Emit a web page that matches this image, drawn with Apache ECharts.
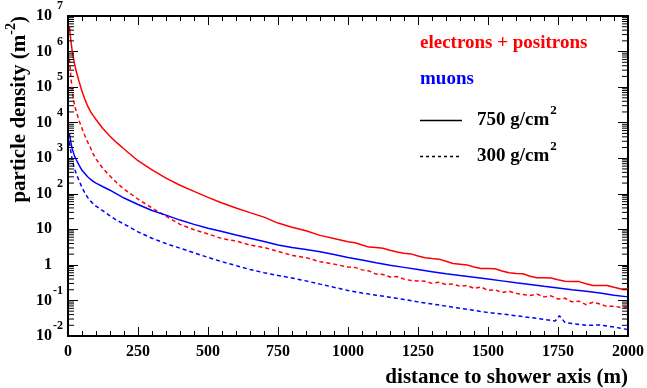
<!DOCTYPE html>
<html><head><meta charset="utf-8">
<script src="https://cdn.jsdelivr.net/npm/echarts@6/dist/echarts.min.js"></script>
<style>html,body{margin:0;padding:0;background:#fff}#c{width:647px;height:388px}</style>
</head><body><div id="c"></div>
<script>
const FONT = 'Liberation Serif';

// distances (m)
const distFine = [5,10,15,20,25,30,40,50,60,70,80,90,100,125,150,175,200,250,300,350,400,450,500,550,600,650,700,750,800,850,900,950,
  1000,1025,1050,1075,1100,1125,1150,1175,1200,1225,1250,1275,1300,1325,1350,1375,1400,1425,1450,1475,1500,1525,1550,1575,1600,1625,1650,1675,1700,1725,1750,1775,1800,1825,1850,1875,1900,1925,1950,1975,2000];
const distCoarse = [5,10,15,20,25,30,40,50,60,70,80,90,100,125,150,175,200,250,300,350,400,450,500,550,600,650,700,750,800,850,900,950,
  1000,1050,1100,1150,1200,1250,1300,1350,1400,1450,1500,1550,1600,1650,1700,1750,1800,1850,1900,1950,2000];
const distMu300 = [5,10,15,20,25,30,40,50,60,70,80,90,100,125,150,175,200,250,300,350,400,450,500,550,600,650,700,750,800,850,900,950,
  1000,1050,1100,1150,1200,1250,1300,1350,1400,1450,1500,1550,1600,1650,1700,1740,1755,1775,1800,1850,1900,1950,2000];

// particle densities (m^-2)
const elec750 = [5.1e6,2.1e6,1.05e6,6.2e5,3.9e5,2.7e5,1.4e5,7.6e4,4.6e4,2.95e4,2.09e4,1.58e4,1.23e4,6760,4170,2690,1820,851,468,275,174,117,79.4,55.0,39.8,29.5,22.0,15.0,11.5,9.1,6.76,5.50,
  4.47,4.17,3.63,3.16,3.09,2.95,2.57,2.29,2.14,2.04,1.78,1.58,1.51,1.45,1.26,1.10,1.05,1.00,0.871,0.794,0.794,0.776,0.676,0.603,0.575,0.562,0.479,0.437,0.437,0.427,0.380,0.347,0.339,0.339,0.295,0.263,0.263,0.263,0.234,0.209,0.215];
const elec300 = [6.3e5,2.0e5,8.32e4,4.27e4,2.75e4,2.0e4,1.12e4,6920,4370,2880,2000,1320,955,513,316,200,135,70.8,39.8,23.4,13.8,9.77,7.41,5.50,4.7,3.6,3.1,2.40,1.85,1.6,1.23,1.05,
  0.871,0.851,0.724,0.676,0.550,0.537,0.457,0.468,0.398,0.363,0.355,0.347,0.302,0.324,0.282,0.288,0.251,0.263,0.219,0.240,0.191,0.200,0.166,0.182,0.158,0.148,0.138,0.151,0.126,0.135,0.110,0.115,0.0912,0.0955,0.0759,0.0891,0.0794,0.0676,0.0692,0.0631,0.0661];
const muon750 = [5010,2820,1860,1380,1070,891,631,457,372,302,257,224,200,158,126,97.7,75.9,50.1,33.9,25.1,18.2,13.8,10.7,8.71,6.92,5.62,4.57,3.63,3.09,2.69,2.34,1.95,
  1.62,1.38,1.15,0.977,0.851,0.741,0.646,0.562,0.501,0.447,0.398,0.355,0.316,0.282,0.251,0.224,0.200,0.182,0.162,0.141,0.126];
const muon300 = [2820,1585,912,631,457,363,229,151,107,79.4,63.1,52.5,44.7,33.1,24.0,17.8,14.1,8.51,5.62,3.98,2.95,2.19,1.62,1.23,0.955,0.741,0.603,0.501,0.427,0.355,0.288,0.234,
  0.191,0.162,0.141,0.123,0.107,0.0912,0.0794,0.0692,0.0603,0.0525,0.0457,0.0417,0.0372,0.0331,0.0295,0.0263,0.0372,0.0240,0.0224,0.0200,0.0204,0.0178,0.0151];

const xTicks = [0,250,500,750,1000,1250,1500,1750,2000];
const yMin = 1e-2, yMax = 1e7;
const legendTexts = ['electrons + positrons','muons','750 g/cm','300 g/cm'];

const zip = (xs, ys) => xs.map((x, i) => [x, ys[i]]);

// minor tick positions for log axis (2..9 per decade)
const minorVals = [];
for (let e = -2; e < 7; e++) for (let m = 2; m <= 9; m++) minorVals.push([0, m * Math.pow(10, e)]);

function yLabel(v) {
  const e = Math.round(Math.log10(v));
  if (e === 0) return '{p|1}';
  if (e === 1) return '{p|10}';
  return '{s|' + e + '}\n{b|10}{sp| }\n{e| }';
}

const axisLineStyle = { show: true, onZero: false, lineStyle: { color: '#000', width: 2 } };
const chart = echarts.init(document.getElementById('c'), null, { renderer: 'canvas' });

const xBase = {
  type: 'value', min: 0, max: 2000, interval: 250,
  axisLine: axisLineStyle,
  axisTick: { show: true, inside: true, length: 9, lineStyle: { color: '#000', width: 1 } },
  minorTick: { show: true, splitNumber: 5, length: 5, lineStyle: { color: '#000', width: 1 } },
  splitLine: { show: false }, minorSplitLine: { show: false }
};
const yBase = {
  type: 'log', logBase: 10, min: yMin, max: yMax, splitNumber: 9,
  axisLine: axisLineStyle,
  axisTick: { show: true, inside: true, length: 10, lineStyle: { color: '#000', width: 1 } },
  splitLine: { show: false }
};

const option = {
  animation: false,
  backgroundColor: '#fff',
  grid: { left: 68, right: 17, top: 13, bottom: 51, containLabel: false },
  xAxis: [
    Object.assign({}, xBase, {
      position: 'bottom',
      name: 'distance to shower axis (m)', nameLocation: 'end', nameGap: 0,
      nameTextStyle: { fontFamily: FONT, fontWeight: 'bold', fontSize: 21, color: '#000', align: 'right', verticalAlign: 'top', padding: [31, 0, 0, 0] },
      axisLabel: { show: true, margin: 8, fontFamily: FONT, fontWeight: 'bold', fontSize: 16, color: '#000',
        formatter: v => xTicks.includes(v) ? String(v) : '' }
    }),
    Object.assign({}, xBase, { position: 'top', axisLabel: { show: false } })
  ],
  yAxis: [
    Object.assign({}, yBase, {
      position: 'left',
      name: '{a|particle density (m}{s|-2}{a|)}', nameLocation: 'end', nameGap: 0, nameRotate: 90,
      nameTextStyle: {
        align: 'right', verticalAlign: 'bottom', padding: [0, 0, 32, 0],
        rich: {
          a: { fontFamily: FONT, fontWeight: 'bold', fontSize: 21, color: '#000' },
          s: { fontFamily: FONT, fontWeight: 'bold', fontSize: 14, color: '#000', padding: [0, 0, 18, 0] }
        }
      },
      axisLabel: {
        show: true, margin: 5, showMinLabel: true, showMaxLabel: true, hideOverlap: false,
        formatter: yLabel,
        rich: {
          p: { fontFamily: FONT, fontWeight: 'bold', fontSize: 16, lineHeight: 16, color: '#000', padding: [0, 11, 0, 0] },
          b: { fontFamily: FONT, fontWeight: 'bold', fontSize: 16, lineHeight: 16, color: '#000' },
          sp: { fontFamily: FONT, fontSize: 12, lineHeight: 16, width: 11, color: 'rgba(0,0,0,0)' },
          s: { fontFamily: FONT, fontWeight: 'bold', fontSize: 12, lineHeight: 4, color: '#000', align: 'right' },
          e: { fontFamily: FONT, fontSize: 4, lineHeight: 4, color: 'rgba(0,0,0,0)' }
        }
      }
    }),
    Object.assign({}, yBase, { position: 'right', axisLabel: { show: false } })
  ],
  series: [
    { name: 'electrons + positrons 750 g/cm2', type: 'line', data: zip(distFine, elec750), showSymbol: false, symbol: 'none',
      lineStyle: { color: '#ff0000', width: 1.5, type: 'solid' }, itemStyle: { color: '#ff0000' }, z: 3, silent: true },
    { name: 'electrons + positrons 300 g/cm2', type: 'line', data: zip(distFine, elec300), showSymbol: false, symbol: 'none',
      lineStyle: { color: '#ff0000', width: 1.5, type: [4, 3] }, itemStyle: { color: '#ff0000' }, z: 3, silent: true },
    { name: 'muons 750 g/cm2', type: 'line', data: zip(distCoarse, muon750), showSymbol: false, symbol: 'none',
      lineStyle: { color: '#0000ff', width: 1.5, type: 'solid' }, itemStyle: { color: '#0000ff' }, z: 3, silent: true },
    { name: 'muons 300 g/cm2', type: 'line', data: zip(distMu300, muon300), showSymbol: false, symbol: 'none',
      lineStyle: { color: '#0000ff', width: 1.5, type: [4, 3] }, itemStyle: { color: '#0000ff' }, z: 3, silent: true },
    { name: 'minor ticks', type: 'custom', silent: true, data: minorVals, clip: false, z: 4,
      renderItem: (params, api) => {
        const v = api.value(1);
        const L = api.coord([0, v]);
        const R = api.coord([2000, v]);
        return { type: 'group', children: [
          { type: 'line', shape: { x1: L[0], y1: L[1], x2: L[0] + 6, y2: L[1] }, style: { stroke: '#000', lineWidth: 1 } },
          { type: 'line', shape: { x1: R[0], y1: R[1], x2: R[0] - 6, y2: R[1] }, style: { stroke: '#000', lineWidth: 1 } }
        ] };
      }
    }
  ],
  graphic: [
    { type: 'text', x: 420, y: 43, style: { text: legendTexts[0], fill: '#ff0000', font: 'bold 19px "Liberation Serif"', verticalAlign: 'middle' } },
    { type: 'text', x: 420, y: 79, style: { text: legendTexts[1], fill: '#0000ff', font: 'bold 19px "Liberation Serif"', verticalAlign: 'middle' } },
    { type: 'line', shape: { x1: 420, y1: 120.5, x2: 462, y2: 120.5 }, style: { stroke: '#000', lineWidth: 1.5 } },
    { type: 'line', shape: { x1: 420, y1: 156.5, x2: 462, y2: 156.5 }, style: { stroke: '#000', lineWidth: 1.5, lineDash: [3, 3] } },
    { type: 'text', x: 477, y: 120, style: { text: '{a|' + legendTexts[2] + '}{s|2}', verticalAlign: 'middle',
        rich: { a: { fontFamily: FONT, fontWeight: 'bold', fontSize: 19, fill: '#000', color: '#000' },
                s: { fontFamily: FONT, fontWeight: 'bold', fontSize: 13, fill: '#000', color: '#000', padding: [0, 0, 18, 1] } } } },
    { type: 'text', x: 477, y: 156, style: { text: '{a|' + legendTexts[3] + '}{s|2}', verticalAlign: 'middle',
        rich: { a: { fontFamily: FONT, fontWeight: 'bold', fontSize: 19, fill: '#000', color: '#000' },
                s: { fontFamily: FONT, fontWeight: 'bold', fontSize: 13, fill: '#000', color: '#000', padding: [0, 0, 18, 1] } } } }
  ]
};
chart.setOption(option);
</script>
</body></html>
